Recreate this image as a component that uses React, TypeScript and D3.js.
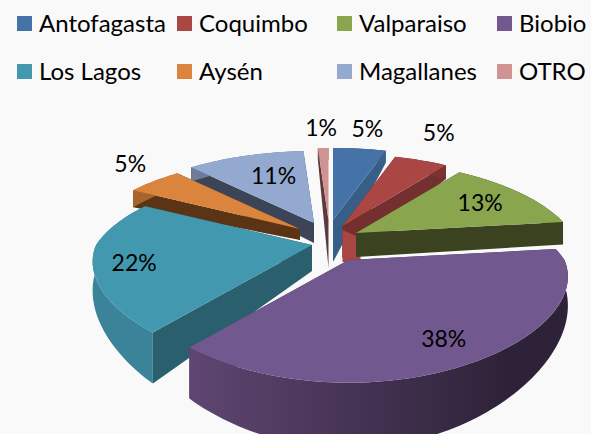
import React from "react";
import * as d3 from "d3";

const categories = ["Antofagasta", "Coquimbo", "Valparaiso", "Biobio", "Los Lagos", "Aysén", "Magallanes", "OTRO"];
const shares = [5, 5, 13, 38, 22, 5, 11, 1];
const topColors = ["#4573a7", "#aa4644", "#89a54e", "#71588f", "#4298af", "#db843d", "#93a9cf", "#d19392"];
const faceColors = ["#375e86", "#73302e", "#3a421f", "#4a3a5e", "#2a606e", "#5a3414", "#3c4558", "#5a3a3a"];
const wallLeft = ["#3f6996", "#8e3a38", "#4a5428", "#5e4672", "#3b8399", "#a8642c", "#6d7d9a", "#8a6060"];
const wallRight = ["#375e86", "#73302e", "#3a421f", "#2e2238", "#357a8e", "#7a4a20", "#4a566c", "#5a3a3a"];

// layout of the exploded 3D pie
const shiftX = [-4.5, 5, 18.5, 11, -25.5, -37.5, -23.5, -9];
const shiftY = [-21, -15, -8, 19, 4, -12, -18, -21];
const hubDepth = [42, 32, 24, 30, 26, 11, 20, 48];
const labelFactor = [1.22, 1.2, 0.72, 0.62, 0.82, 1.2, 0.68, 1.22];
const labelNudgeX = [2, 2, 7, 19, 2, 5, 6, -1];
const labelNudgeY = [-4, -14, -1, 15, 3, -7, -1, -4];

const CX = 337.5, CY = 241, RX = 216, RY = 90.8, PY = 0.26, RIM_DEPTH = 25;

const rim = (a: number, f = 1) => {
  const X = Math.sin(a), Y = -Math.cos(a);
  const wx = 1 - (Y < 0 ? 0.28 : 0.175) * Y;
  const wy = 1 - PY * Y;
  return { x: (f * RX * X) / wx, y: (f * RY * Y) / wy, depth: RIM_DEPTH * Math.pow(1 / wy, 3.2) };
};

const color = d3.scaleOrdinal<string, string>().domain(categories).range(topColors);
const arcs = d3.pie<number>().sort(null).value((d) => d)(shares);
const line = d3.line<[number, number]>();
const drawOrder = [6, 7, 0, 1, 5, 2, 4, 3];

const legendCols = d3.scalePoint<number>().domain([0, 1, 2, 3]).range([17, 497]);
const legendRows = d3.scalePoint<number>().domain([0, 1]).range([16, 64]);

export default function App() {
  return (
    <svg width={591} height={434} style={{ position: "absolute", left: 0, top: 0, background: "#f9f9f9" }} fontFamily="Lato, Carlito, sans-serif">
      <defs>
        {categories.map((c, i) => (
          <linearGradient key={c} id={`wall${i}`} gradientUnits="userSpaceOnUse" x1={155} x2={568} y1={0} y2={0}>
            <stop offset={i === 4 ? "0" : "0.08"} stopColor={wallLeft[i]} />
            <stop offset={i === 4 ? "0.2" : "0.85"} stopColor={wallRight[i]} />
          </linearGradient>
        ))}
      </defs>
      {drawOrder.map((i) => {
        const a = arcs[i];
        const hx = CX + shiftX[i], hy = CY + shiftY[i];
        const n = Math.max(4, Math.ceil((a.endAngle - a.startAngle) * 40));
        const angles = d3.range(n + 1).map((k) => a.startAngle + ((a.endAngle - a.startAngle) * k) / n);
        const top: [number, number][] = angles.map((t) => { const r = rim(t); return [hx + r.x, hy + r.y]; });
        const bottom: [number, number][] = angles.map((t) => { const r = rim(t); return [hx + r.x, hy + r.y + r.depth]; });
        const face = (t: number): [number, number][] => {
          const r = rim(t);
          return [[hx, hy], [hx + r.x, hy + r.y], [hx + r.x, hy + r.y + r.depth], [hx, hy + hubDepth[i]]];
        };
        const band: [number, number][] = [[hx, hy + 4], [hx + 18, hy + 12], [hx + 18, hy + 36], [hx, hy + 36]];
        return (
          <g key={i}>
            <path d={line(face(a.startAngle))! + "Z"} fill={faceColors[i]} />
            <path d={line(face(a.endAngle))! + "Z"} fill={faceColors[i]} />
            {i === 1 && <path d={line(band)! + "Z"} fill={topColors[1]} />}
            <path d={line([...top, ...bottom.slice().reverse()])! + "Z"} fill={`url(#wall${i})`} />
            <path d={line([[hx, hy], ...top])! + "Z"} fill={color(categories[i])} />
          </g>
        );
      })}
      {arcs.map((a, i) => {
        const mid = (a.startAngle + a.endAngle) / 2;
        const r = rim(mid, labelFactor[i]);
        return (
          <text key={i} x={CX + shiftX[i] + r.x + labelNudgeX[i]} y={CY + shiftY[i] + r.y + labelNudgeY[i] + 8}
            textAnchor="middle" fontSize={23} fill="#000">
            {shares[i]}%
          </text>
        );
      })}
      {categories.map((c, i) => {
        const x = legendCols(i % 4)!, y = legendRows(Math.floor(i / 4))!;
        return (
          <g key={c}>
            <rect x={x} y={y} width={15} height={15} fill={topColors[i]} />
            <text x={x + 22} y={y + 16} fontSize={24} fill="#000">{c}</text>
          </g>
        );
      })}
    </svg>
  );
}
